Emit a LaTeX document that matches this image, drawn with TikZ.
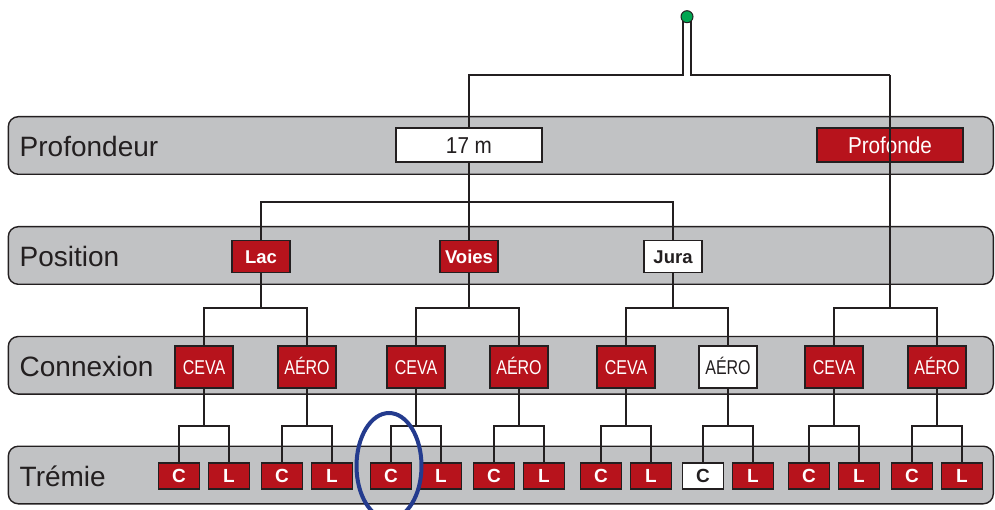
\documentclass[tikz,border=0pt]{standalone}
\usepackage{fontspec}
\setmainfont{Liberation Sans}
\newfontfamily\condfont[FakeStretch=0.9]{Liberation Sans}
\newfontfamily\narrowfont[FakeStretch=0.8]{Liberation Sans}
\definecolor{linec}{RGB}{35,31,32}
\definecolor{bandc}{RGB}{193,194,196}
\definecolor{redc}{RGB}{183,19,28}
\definecolor{bluec}{RGB}{36,59,142}
\definecolor{greenc}{RGB}{0,166,81}
\newcommand{\fork}[4]{%
  \draw[conn] (#2) |- (#3 |- 0,#4) -- (#3);
  \draw[conn] (#1) -- (#1 |- 0,#4);}
\begin{document}
\begin{tikzpicture}[x=1pt,y=-1pt,
  band/.style={draw=linec, line width=1.4pt, fill=bandc, rounded corners=10pt,
    minimum width=985pt, minimum height=57.6pt, inner sep=0pt},
  lbl/.style={anchor=base west, inner sep=0pt, text=linec,
    font=\fontsize{28}{30}\selectfont},
  redbox/.style={draw=linec, line width=1.6pt, fill=redc, text=white, inner sep=0pt},
  whitebox/.style={draw=linec, line width=1.6pt, fill=white, text=linec, inner sep=0pt},
  lvlA/.style={minimum width=146pt, minimum height=34pt, text height=16.5pt, text depth=0pt,
    font=\condfont\fontsize{23}{25}\selectfont},
  lvlB/.style={minimum width=57.5pt, minimum height=32pt, text height=13.2pt, text depth=0pt,
    font=\bfseries\fontsize{18.5}{20}\selectfont},
  lvlC/.style={minimum width=57.5pt, minimum height=42.5pt, text height=14.3pt, text depth=0pt,
    font=\narrowfont\fontsize{20}{22}\selectfont},
  lvlD/.style={minimum width=41pt, minimum height=25.5pt, text height=13.6pt, text depth=0pt,
    font=\bfseries\fontsize{19}{20}\selectfont},
  conn/.style={draw=linec, line width=1.8pt},
  ring/.style={draw=bluec, line width=4pt}]
\useasboundingbox (0,0) rectangle (995,510);

% bands
\node[band] (bandA) at (500.8,145.5) {};
\node[band] (bandB) at (500.8,255.5) {};
\node[band] (bandC) at (500.8,365.3) {};
\node[band] (bandD) at (500.8,475) {};
\node[lbl] (lblA) at (19.5,156.5) {Profondeur};
\node[lbl] (lblB) at (19.5,266.5) {Position};
\node[lbl] (lblC) at (19.5,376.5) {Connexion};
\node[lbl] (lblD) at (19.5,486.3) {Trémie};

% level 1
\node[whitebox,lvlA] (m17) at (469,145) {17 m};
\node[redbox,lvlA] (prof) at (890,145) {Profonde};

% level 2
\node[redbox,lvlB] (lac) at (261,256.7) {Lac};
\node[redbox,lvlB] (voies) at (469,256.7) {Voies};
\node[whitebox,lvlB] (jura) at (673,256.7) {Jura};

% level 3
\node[redbox,lvlC] (c1) at (204,367) {CEVA};
\node[redbox,lvlC] (a1) at (307,367) {AÉRO};
\node[redbox,lvlC] (c2) at (416,367) {CEVA};
\node[redbox,lvlC] (a2) at (519,367) {AÉRO};
\node[redbox,lvlC] (c3) at (626,367) {CEVA};
\node[whitebox,lvlC] (a3) at (728,367) {AÉRO};
\node[redbox,lvlC] (c4) at (834,367) {CEVA};
\node[redbox,lvlC] (a4) at (937,367) {AÉRO};

% level 4
\foreach \p in {c1,a1,c2,a2,c3,c4,a4}{
  \node[redbox,lvlD] (\p C) at ([xshift=-25pt]\p.center |- 0,476) {C};
  \node[redbox,lvlD] (\p L) at ([xshift=25pt]\p.center |- 0,476) {L};
}
\node[whitebox,lvlD] (a3C) at ([xshift=-25pt]a3.center |- 0,476) {C};
\node[redbox,lvlD] (a3L) at ([xshift=25pt]a3.center |- 0,476) {L};

% root
\coordinate (dotc) at (687,16.7);
\draw[conn] ([xshift=-4pt]dotc) |- (m17 |- 0,75) -- (m17);
\draw[conn] ([xshift=4pt]dotc) |- (prof |- 0,75);
\node[circle, draw=linec, line width=1pt, fill=greenc, minimum size=12pt,
  inner sep=0pt] (dot) at (dotc) {};

% level 1 -> 2
\draw[conn] (lac) |- (jura |- 0,202) -- (jura);
\draw[conn] (m17) -- (voies);

% level 2 -> 3
\fork{lac}{c1}{a1}{308}
\fork{voies}{c2}{a2}{308}
\fork{jura}{c3}{a3}{308}
\draw[conn] (c4) |- (a4 |- 0,308) -- (a4);
\draw[conn] (prof |- 0,75) -- (prof |- 0,308);

% level 3 -> 4
\foreach \p in {c1,a1,c2,a2,c3,a3,c4,a4}{
  \fork{\p}{\p C}{\p L}{426}
}

% highlight
\begin{scope}
\clip (0,0) rectangle (995,510);
\draw[ring] (389,466) ellipse [x radius=32.5pt, y radius=53pt];
\end{scope}
\end{tikzpicture}
\end{document}
